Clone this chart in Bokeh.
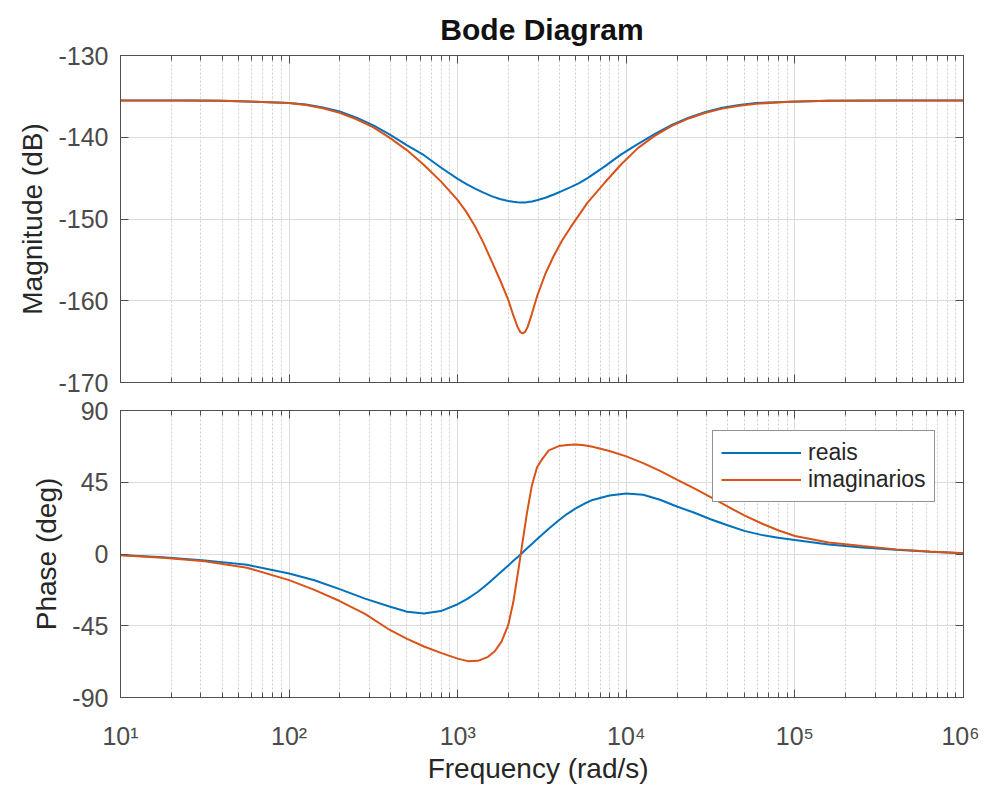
from bokeh.plotting import figure
from bokeh.models import (Range1d, FixedTicker, LogAxis, LinearAxis,
                          CustomJSTickFormatter, Legend, LegendItem)
from bokeh.layouts import column
from bokeh.embed import file_html
from bokeh.resources import INLINE

# ---------------- data ----------------
# frequencies are given as log10(rad/s)
log_freq_mag = [1.0, 1.4, 1.6, 1.8, 2.0, 2.1, 2.2, 2.3, 2.4, 2.5, 2.6, 2.7, 2.8, 2.9,
                3.0, 3.05, 3.1, 3.15, 3.2, 3.25, 3.3, 3.33, 3.355, 3.37, 3.385, 3.40,
                3.415, 3.44, 3.47, 3.52, 3.57, 3.62, 3.67, 3.72, 3.77, 3.87, 3.97,
                4.07, 4.17, 4.27, 4.37, 4.47, 4.57, 4.67, 4.77, 4.97, 5.2, 5.6, 6.0]
mag_reais = [-135.5, -135.5, -135.55, -135.65, -135.8, -136.0, -136.35, -136.85,
             -137.6, -138.55, -139.7, -141.0, -142.2, -143.7, -145.1, -145.7, -146.25,
             -146.75, -147.2, -147.55, -147.8, -147.9, -147.95, -147.97, -147.98,
             -147.97, -147.93, -147.85, -147.7, -147.4, -147.0, -146.55, -146.1,
             -145.6, -145.0, -143.6, -142.1, -140.8, -139.6, -138.5, -137.6, -136.9,
             -136.4, -136.05, -135.8, -135.65, -135.55, -135.5, -135.5]
mag_imag = [-135.5, -135.5, -135.55, -135.65, -135.8, -136.05, -136.45, -137.0,
            -137.8, -138.8, -140.1, -141.6, -143.4, -145.4, -147.7, -149.1, -150.8,
            -152.8, -155.1, -157.4, -159.9, -161.8, -163.2, -163.8, -164.0, -163.8,
            -163.2, -161.6, -159.5, -156.7, -154.5, -152.6, -151.0, -149.5, -148.0,
            -145.6, -143.3, -141.3, -139.8, -138.6, -137.7, -137.0, -136.5, -136.15,
            -135.9, -135.65, -135.55, -135.5, -135.5]

log_freq_phase = [1.0, 1.25, 1.5, 1.75, 2.0, 2.15, 2.3, 2.45, 2.6, 2.7, 2.8, 2.9, 3.0,
                  3.06, 3.12, 3.18, 3.22, 3.26, 3.3, 3.33, 3.36, 3.385, 3.41, 3.44,
                  3.47, 3.5, 3.54, 3.6, 3.65, 3.7, 3.75, 3.8, 3.9, 4.0, 4.1, 4.2, 4.3,
                  4.4, 4.5, 4.6, 4.7, 4.8, 4.9, 5.0, 5.2, 5.4, 5.6, 5.8, 6.0]
ph_reais = [-0.6, -2.0, -4.0, -6.8, -12.2, -16.5, -22.0, -28.0, -33.1, -36.2, -37.3,
            -35.8, -31.5, -28.0, -23.7, -18.5, -14.8, -11.0, -7.2, -4.3, -1.5, 1.0,
            3.4, 6.3, 9.2, 12.0, 15.8, 21.2, 25.2, 28.6, 31.5, 33.9, 36.7, 38.0, 37.2,
            34.0, 29.8, 26.0, 21.8, 18.0, 14.5, 12.0, 10.2, 8.8, 6.0, 4.1, 2.6, 1.4, 0.4]
ph_imag = [-0.8, -2.4, -4.6, -8.6, -16.4, -22.5, -29.5, -37.5, -47.8, -53.2, -58.0,
           -62.0, -65.6, -67.2, -67.0, -64.5, -61.0, -55.0, -44.5, -30.0, -10.0, 7.8,
           25.2, 43.0, 54.2, 59.4, 65.0, 67.7, 68.4, 68.6, 68.2, 67.3, 64.6, 61.2, 57.0,
           52.1, 46.6, 41.3, 35.6, 29.8, 24.2, 19.3, 14.9, 11.3, 7.2, 5.0, 2.9, 1.5, 0.4]

series_names = ["reais", "imaginarios"]
x_major = [10, 100, 1000, 10000, 100000, 1000000]
x_tick_labels = ["10\u00b9", "10\u00b2", "10\u00b3", "10\u2074", "10\u2075", "10\u2076"]
mag_ticks = [-170, -160, -150, -140, -130]
mag_tick_labels = ["-170", "-160", "-150", "-140", "-130"]
phase_ticks = [-90, -45, 0, 45, 90]
phase_tick_labels = ["-90", "-45", "0", "45", "90"]

title_text = "Bode Diagram"
mag_label = "Magnitude (dB)"
phase_label = "Phase (deg)"
freq_label = "Frequency  (rad/s)"

freq_mag = [10 ** v for v in log_freq_mag]
freq_phase = [10 ** v for v in log_freq_phase]

# ---------------- style ----------------
BLUE = "#0072BD"
ORANGE = "#D95319"
FONT = "Liberation Sans"
AX_COL = "#505050"
TICK_TXT = "#4a4a4a"
LBL_TXT = "#262626"

x_minor = [k * d for d in x_major[:-1] for k in range(2, 10)]
xticker = FixedTicker(ticks=x_major, minor_ticks=x_minor)
xr = Range1d(10, 1000000)

blank = CustomJSTickFormatter(code="return '';")
xfmt = CustomJSTickFormatter(args=dict(xlabels=x_tick_labels),
                             code="const e = Math.round(Math.log10(tick)); return xlabels[e-1];")


def yfmt(tvals, tlabels):
    return CustomJSTickFormatter(args=dict(tvals=tvals, tlabels=tlabels),
                                 code="const i = tvals.indexOf(tick); return i >= 0 ? tlabels[i] : String(tick);")


def style_axis(ax, ticker, is_x):
    ax.ticker = ticker
    ax.axis_line_color = AX_COL
    ax.major_tick_line_color = AX_COL
    ax.major_tick_in = 8
    ax.major_tick_out = 0
    if is_x:
        ax.minor_tick_line_color = AX_COL
        ax.minor_tick_in = 5
        ax.minor_tick_out = 0
    else:
        ax.minor_tick_line_color = None
    ax.major_label_text_font = FONT
    ax.major_label_text_font_size = "25px"
    ax.major_label_text_color = TICK_TXT
    ax.axis_label_text_font = FONT
    ax.axis_label_text_font_size = "28px"
    ax.axis_label_text_font_style = "normal"
    ax.axis_label_text_color = LBL_TXT


def make_panel(yr, yticks, ylabels, ylabel, frame_h, top_border, bottom_border, bottom_labels):
    p = figure(x_axis_type="log", x_range=xr, y_range=yr,
               frame_width=843, frame_height=frame_h,
               output_backend="svg", toolbar_location=None,
               min_border_left=120, min_border_right=16,
               min_border_top=top_border, min_border_bottom=bottom_border)
    yt = FixedTicker(ticks=yticks)
    style_axis(p.xaxis[0], xticker, True)
    style_axis(p.yaxis[0], yt, False)
    p.yaxis[0].formatter = yfmt(yticks, ylabels)
    p.yaxis[0].axis_label = ylabel
    p.yaxis[0].major_label_standoff = 12
    p.yaxis[0].axis_label_standoff = 7
    if bottom_labels:
        p.xaxis[0].formatter = xfmt
        p.xaxis[0].major_label_standoff = 24
        p.xaxis[0].axis_label = freq_label
        p.xaxis[0].axis_label_standoff = 0
    else:
        p.xaxis[0].formatter = blank
        p.xaxis[0].major_label_standoff = 0
    top = LogAxis(formatter=blank, major_label_standoff=0)
    style_axis(top, xticker, True)
    p.add_layout(top, "above")
    right = LinearAxis(formatter=blank, major_label_standoff=0)
    style_axis(right, yt, False)
    p.add_layout(right, "right")

    p.xgrid[0].ticker = xticker
    p.ygrid[0].ticker = yt
    p.xgrid.grid_line_color = "#dcdcdc"
    p.ygrid.grid_line_color = "#dcdcdc"
    p.xgrid.minor_grid_line_color = "#cfcfcf"
    p.xgrid.minor_grid_line_dash = "2 2"
    p.outline_line_color = AX_COL
    p.outline_line_alpha = 1
    p.background_fill_color = "white"
    p.border_fill_color = "white"
    return p


p1 = make_panel(Range1d(-170, -130), mag_ticks, mag_tick_labels, mag_label, 327, 55, 14, False)
p1.title.text = title_text
p1.title.text_font = FONT
p1.title.text_font_size = "30px"
p1.title.text_font_style = "bold"
p1.title.text_color = "#111111"
p1.title.align = "center"
p1.title.vertical_align = "top"
p1.title.standoff = 16
p1.line(freq_mag, mag_reais, line_color=BLUE, line_width=2)
p1.line(freq_mag, mag_imag, line_color=ORANGE, line_width=2)

p2 = make_panel(Range1d(-90, 90), phase_ticks, phase_tick_labels, phase_label, 287, 14, 0, True)
r1 = p2.line(freq_phase, ph_reais, line_color=BLUE, line_width=2)
r2 = p2.line(freq_phase, ph_imag, line_color=ORANGE, line_width=2)

legend = Legend(items=[LegendItem(label=series_names[0], renderers=[r1]),
                       LegendItem(label=series_names[1], renderers=[r2])],
                location=(592, 195))
legend.border_line_color = "#262626"
legend.border_line_width = 1
legend.background_fill_color = "white"
legend.background_fill_alpha = 1
legend.label_text_font = FONT
legend.label_text_font_size = "23px"
legend.label_text_color = LBL_TXT
legend.glyph_width = 80
legend.glyph_height = 25
legend.label_height = 25
legend.label_standoff = 7
legend.spacing = 0
legend.padding = 8
legend.margin = 0
p2.add_layout(legend)

layout = column(p1, p2, spacing=0)
open("out.html", "w", encoding="utf-8").write(file_html(layout, INLINE))
